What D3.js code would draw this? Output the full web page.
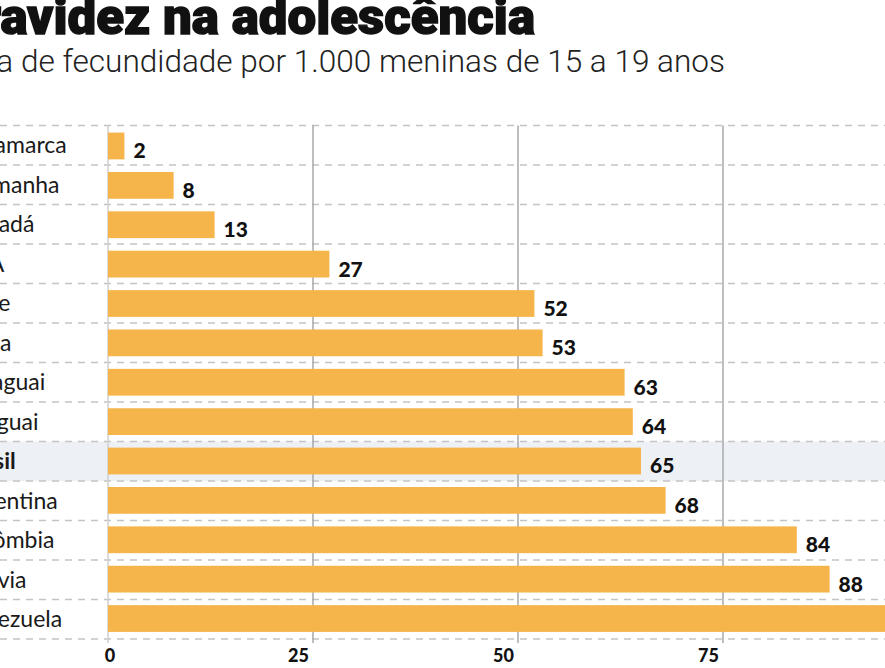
<!DOCTYPE html>
<html>
<head>
<meta charset="utf-8">
<script src="https://cdn.jsdelivr.net/npm/d3@7"></script>
<style>
  body { margin: 0; background: #fff; }
  svg { display: block; }
</style>
</head>
<body>
<svg id="chart"></svg>
<script>
// Data
const countries = ["Dinamarca", "Alemanha", "Canadá", "EUA", "Chile", "Cuba", "Paraguai",
                   "Uruguai", "Brasil", "Argentina", "Colômbia", "Bolívia", "Venezuela"];
const rates = [2, 8, 13, 27, 52, 53, 63, 64, 65, 68, 84, 88, 95];
const ticks = [0, 25, 50, 75, 100];
const highlight = "Brasil";

const width = 885;
const height = 668;

const svg = d3.select("#chart")
    .attr("width", width)
    .attr("height", height);

// Scales
const x = d3.scaleLinear()
    .domain([0, 100])
    .range([108, 928]);

// one band per row (for the dashed separators and the highlight)
const rows = d3.scaleBand()
    .domain(countries)
    .range([125.5, 639]);

// bars inside the rows
const y = d3.scaleBand()
    .domain(countries)
    .range([125.5, 639])
    .paddingInner(0.32)
    .paddingOuter(0.18);

// Highlighted row (Brasil)
svg.append("rect")
    .attr("x", 0)
    .attr("y", rows(highlight))
    .attr("width", width)
    .attr("height", rows.bandwidth())
    .attr("fill", "#edf1f6");

// Dashed row separators
const seps = countries.map(c => rows(c)).concat([rows.range()[1]]);
svg.append("g")
    .selectAll("line")
    .data(seps)
    .join("line")
    .attr("x1", 0)
    .attr("x2", width)
    .attr("y1", d => d)
    .attr("y2", d => d)
    .attr("stroke", "#c4c4c4")
    .attr("stroke-width", 1.5)
    .attr("stroke-dasharray", "7,6");

// Vertical gridlines
svg.append("g")
    .selectAll("line")
    .data(ticks)
    .join("line")
    .attr("x1", d => x(d))
    .attr("x2", d => x(d))
    .attr("y1", rows.range()[0])
    .attr("y2", rows.range()[1] + 4)
    .attr("stroke", d => d === 0 ? "#cfcfcf" : "#a8a8a8")
    .attr("stroke-width", 1.5);

// Bars
svg.append("g")
    .selectAll("rect")
    .data(countries)
    .join("rect")
    .attr("x", x(0))
    .attr("y", d => y(d))
    .attr("width", (d, i) => x(rates[i]) - x(0))
    .attr("height", y.bandwidth())
    .attr("fill", "#f5b54b");

// Value labels
svg.append("g")
    .selectAll("text")
    .data(countries)
    .join("text")
    .attr("x", (d, i) => x(rates[i]) + 9)
    .attr("y", d => y(d) + y.bandwidth() - 1)
    .attr("font-family", "Lato, 'Open Sans', sans-serif")
    .attr("font-weight", 900)
    .attr("font-size", 21)
    .attr("fill", "#111")
    .text((d, i) => rates[i]);

// Country labels (left-aligned, cut by the left edge)
svg.append("g")
    .selectAll("text")
    .data(countries)
    .join("text")
    .attr("x", -41)
    .attr("y", d => rows(d) + rows.bandwidth() / 2 + 8)
    .attr("font-family", "Lato, 'Open Sans', sans-serif")
    .attr("font-size", 23)
    .attr("font-weight", d => d === highlight ? 700 : 400)
    .attr("fill", "#1a1a1a")
    .text(d => d);

// Axis tick labels
svg.append("g")
    .selectAll("text")
    .data(ticks)
    .join("text")
    .attr("x", d => d === 0 ? x(d) + 2 : x(d) - 4)
    .attr("y", 662)
    .attr("text-anchor", d => d === 0 ? "middle" : "end")
    .attr("font-family", "Lato, 'Open Sans', sans-serif")
    .attr("font-weight", 900)
    .attr("font-size", 18)
    .attr("fill", "#111")
    .text(d => d);

// Title and subtitle
svg.append("text")
    .attr("x", -53)
    .attr("y", 34)
    .attr("textLength", 588)
    .attr("lengthAdjust", "spacingAndGlyphs")
    .attr("font-family", "Roboto, 'Open Sans', sans-serif")
    .attr("font-weight", 900)
    .attr("font-size", 50)
    .attr("fill", "#111")
    .attr("stroke", "#111")
    .attr("stroke-width", 1.4)
    .text("Gravidez na adolescência");

svg.append("text")
    .attr("x", -53)
    .attr("y", 72)
    .attr("textLength", 778)
    .attr("lengthAdjust", "spacingAndGlyphs")
    .attr("font-family", "Roboto, 'Open Sans', sans-serif")
    .attr("font-weight", 300)
    .attr("font-size", 31)
    .attr("fill", "#222")
    .text("Taxa de fecundidade por 1.000 meninas de 15 a 19 anos");
</script>
</body>
</html>
